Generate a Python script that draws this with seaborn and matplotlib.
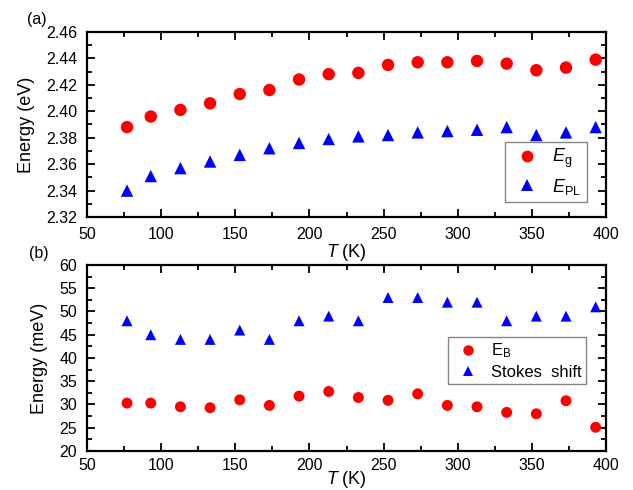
import matplotlib
matplotlib.use("Agg")
import matplotlib.pyplot as plt
import seaborn as sns
import pandas as pd
from matplotlib.ticker import MultipleLocator

T = [77, 93, 113, 133, 153, 173, 193, 213, 233, 253, 273, 293, 313, 333, 353, 373, 393]
Eg = [2.388, 2.396, 2.401, 2.406, 2.413, 2.416, 2.424, 2.428, 2.429, 2.435, 2.437, 2.437,
      2.438, 2.436, 2.431, 2.433, 2.439]
EPL = [2.340, 2.351, 2.357, 2.362, 2.367, 2.372, 2.376, 2.379, 2.381, 2.382, 2.384, 2.385,
       2.386, 2.388, 2.382, 2.384, 2.388]
EB = [30.3, 30.3, 29.5, 29.3, 31.0, 29.8, 31.8, 32.8, 31.5, 30.9, 32.3, 29.8, 29.5, 28.3,
      28.0, 30.8, 25.1]
Stokes = [48, 45, 44, 44, 46, 44, 48, 49, 48, 53, 53, 52, 52, 48, 49, 49, 51]

sns.set_style("ticks", {"axes.edgecolor": "black", "text.color": "black",
                        "axes.labelcolor": "black", "xtick.color": "black",
                        "ytick.color": "black"})
plt.rcParams['font.family'] = ['Liberation Sans', 'DejaVu Sans']
plt.rcParams['mathtext.fontset'] = 'custom'
plt.rcParams['mathtext.it'] = 'Liberation Sans:italic'
plt.rcParams['mathtext.rm'] = 'Liberation Sans'

fig = plt.figure(figsize=(6.33, 4.9), dpi=100)
ax1 = fig.add_axes([0.1374, 0.557, 0.820, 0.378])
ax2 = fig.add_axes([0.1374, 0.0796, 0.820, 0.3796])

la_g, la_pl = r"$E_{\mathrm{g}}$", r"$E_{\mathrm{PL}}$"
lb_b, lb_s = r"E$_{\mathrm{B}}$", "Stokes  shift"

dfa = pd.DataFrame({"T": T + T, "E": Eg + EPL, "s": [la_g] * len(T) + [la_pl] * len(T)})
dfb = pd.DataFrame({"T": T + T, "E": EB + Stokes, "s": [lb_b] * len(T) + [lb_s] * len(T)})

pal_a = {la_g: "#ff0000", la_pl: "#0000ff"}
mk_a = {la_g: "o", la_pl: "^"}
pal_b = {lb_b: "#ff0000", lb_s: "#0000ff"}
mk_b = {lb_b: "o", lb_s: "^"}

sns.scatterplot(data=dfa, x="T", y="E", hue="s", style="s", palette=pal_a, markers=mk_a,
                s=80, linewidth=0, ax=ax1)
sns.scatterplot(data=dfb, x="T", y="E", hue="s", style="s", palette=pal_b, markers=mk_b,
                s=62, linewidth=0, ax=ax2)

for ax in (ax1, ax2):
    ax.set_xlim(50, 400)
    ax.xaxis.set_major_locator(MultipleLocator(50))
    ax.xaxis.set_minor_locator(MultipleLocator(25))
    ax.tick_params(which='both', direction='in', top=True, right=True, labelsize=11.5,
                   width=1.3, pad=7, colors='black')
    ax.tick_params(which='major', length=6)
    ax.tick_params(which='minor', length=3.5)
    for sp in ax.spines.values():
        sp.set_linewidth(1.6)
        sp.set_color('black')

ax2.tick_params(axis='x', which='both', pad=5)
ax1.set_xlabel(r"$T$ (K)", fontsize=13, labelpad=0, color='black')
ax2.set_xlabel(r"$T$ (K)", fontsize=13, labelpad=-3, color='black')

ax1.set_ylim(2.32, 2.46)
ax1.yaxis.set_major_locator(MultipleLocator(0.02))
ax1.yaxis.set_minor_locator(MultipleLocator(0.01))
ax1.yaxis.set_major_formatter(matplotlib.ticker.FormatStrFormatter('%.2f'))
ax1.set_ylabel("Energy (eV)", fontsize=13, labelpad=8, color='black')

ax2.set_ylim(20, 60)
ax2.yaxis.set_major_locator(MultipleLocator(5))
ax2.yaxis.set_minor_locator(MultipleLocator(2.5))
ax2.set_ylabel("Energy (meV)", fontsize=13, labelpad=8, color='black')

leg1 = ax1.legend(loc='lower right', bbox_to_anchor=(0.963, 0.081), fontsize=13, title=None,
                  frameon=True, fancybox=False, edgecolor='#666666', handletextpad=0.5,
                  borderpad=0.3, labelspacing=0.35, markerscale=0.95, handlelength=1.8,
                  borderaxespad=0, labelcolor='black')
leg2 = ax2.legend(loc='center right', bbox_to_anchor=(0.961, 0.484), fontsize=12, title=None,
                  frameon=True, fancybox=False, edgecolor='#666666', handletextpad=0.5,
                  borderpad=0.25, labelspacing=0.3, markerscale=0.95, handlelength=1.8,
                  borderaxespad=0, labelcolor='black')
for leg in (leg1, leg2):
    leg.get_frame().set_linewidth(1.0)

fig.text(0.043, 0.952, "(a)", fontsize=11.5, color='black')
fig.text(0.046, 0.474, "(b)", fontsize=11.5, color='black')

fig.savefig("out.png", dpi=100)
